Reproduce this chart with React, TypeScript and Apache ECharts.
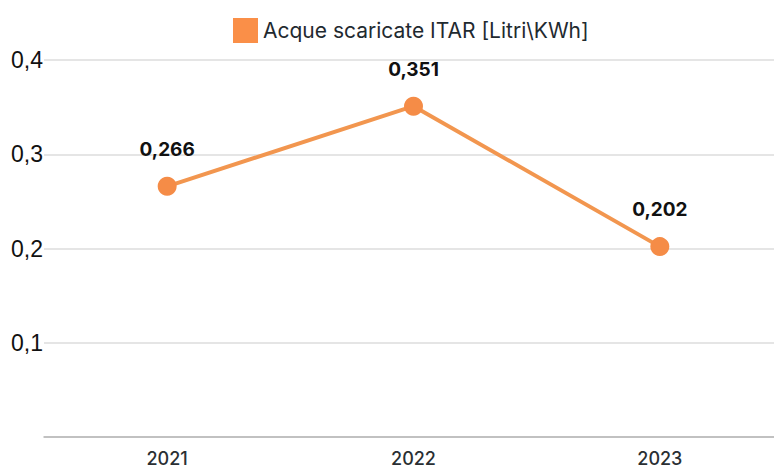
import React, { useEffect, useRef } from "react";
import * as echarts from "echarts";

const categories = ["2021", "2022", "2023"];
const values = [0.266, 0.351, 0.202];
const seriesName = "Acque scaricate ITAR [Litri\\KWh]";

const fmt = (v: number, d: number) => v.toFixed(d).replace(".", ",");

export default function App() {
  const ref = useRef<HTMLDivElement>(null);
  useEffect(() => {
    document.body.style.margin = "0";
    const chart = echarts.init(ref.current!, null, { renderer: "svg" });
    chart.setOption({
      animation: false,
      backgroundColor: "#ffffff",
      legend: {
        top: 13,
        left: 228,
        itemWidth: 25,
        itemHeight: 25,
        itemGap: 12,
        icon: "rect",
        textStyle: { fontFamily: "Inter", fontSize: 21, color: "#1f2a30" },
        data: [{ name: seriesName, itemStyle: { color: "#FA8F48" } }],
      },
      grid: { left: 44, right: 0, top: 60, bottom: 31, containLabel: false },
      xAxis: {
        type: "category",
        data: categories,
        axisLine: { lineStyle: { color: "#b5b5b5", width: 1.5 } },
        axisTick: { show: false },
        axisLabel: { fontFamily: "Inter", fontSize: 18, fontWeight: 500, color: "#2a2f33", margin: 12 },
      },
      yAxis: {
        type: "value",
        min: 0,
        max: 0.4,
        interval: 0.1,
        axisLine: { show: false },
        axisTick: { show: false },
        splitLine: { lineStyle: { color: "#dcdcdc", width: 1.5 } },
        axisLabel: {
          fontFamily: "Liberation Sans",
          fontSize: 23,
          color: "#111",
          margin: 1,
          padding: [10, 0, 0, 0],
          formatter: (v: number) => (v === 0 ? "" : fmt(v, 1)),
        },
      },
      series: [
        {
          name: seriesName,
          type: "line",
          data: values,
          symbol: "circle",
          symbolSize: 19,
          lineStyle: { color: "#F2964F", width: 4 },
          itemStyle: { color: "#F58C47" },
          label: {
            show: true,
            position: "top",
            distance: 18,
            fontFamily: "Inter",
            fontWeight: "bold",
            fontSize: 19,
            color: "#111",
            formatter: (p: any) => fmt(p.value, 3),
          },
        },
      ],
    });
    return () => chart.dispose();
  }, []);
  return (
    <div style={{ width: 774, height: 468, overflow: "hidden", position: "relative" }}>
      <div ref={ref} style={{ width: 783, height: 468 }} />
    </div>
  );
}
